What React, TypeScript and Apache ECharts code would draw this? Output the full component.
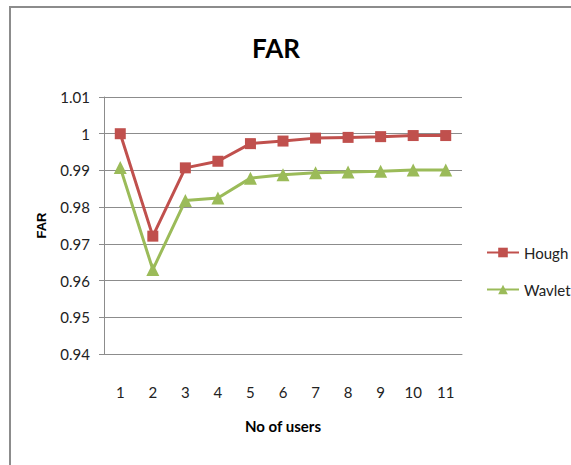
import React, { useEffect, useRef } from "react";
import * as echarts from "echarts";

const categories = ["1", "2", "3", "4", "5", "6", "7", "8", "9", "10", "11"];
const houghValues = [1.0, 0.9721, 0.9907, 0.9925, 0.9973, 0.998, 0.9988, 0.999, 0.9992, 0.9995, 0.9995];
const wavletValues = [0.9908, 0.963, 0.9818, 0.9825, 0.9879, 0.9888, 0.9894, 0.9896, 0.9898, 0.9901, 0.9901];
const yMin = 0.94;
const yMax = 1.01;
const yStep = 0.01;

const FONT = "Lato, 'Liberation Sans', sans-serif";

export default function App() {
  const ref = useRef<HTMLDivElement>(null);
  useEffect(() => {
    if (!ref.current) return;
    const chart = echarts.init(ref.current, null, { renderer: "svg" });
    chart.setOption({
      animation: false,
      backgroundColor: "#ffffff",
      title: {
        text: "FAR",
        left: 271,
        textAlign: "center",
        top: 30,
        textStyle: { fontFamily: FONT, fontSize: 26, fontWeight: "bold", color: "#000" },
      },
      graphic: [
        {
          type: "rect",
          shape: { x: 10, y: 7, width: 600, height: 500 },
          style: { fill: "none", stroke: "#8c8c8c", lineWidth: 2 },
          silent: true,
        },
      ],
      legend: {
        orient: "vertical",
        left: 486,
        top: 245,
        padding: 0,
        itemWidth: 32,
        itemHeight: 12,
        itemGap: 22,
        textStyle: { fontFamily: FONT, fontSize: 15, color: "#222" },
        data: ["Hough", "Wavlet"],
      },
      grid: { left: 104, right: 109, top: 97, bottom: 111 },
      xAxis: {
        type: "category",
        data: categories,
        boundaryGap: true,
        name: "No of users",
        nameLocation: "middle",
        nameGap: 64,
        nameTextStyle: { fontFamily: FONT, fontSize: 15, fontWeight: "bold", color: "#000" },
        axisLine: { lineStyle: { color: "#8c8c8c", width: 1 } },
        axisTick: { show: false },
        axisLabel: { fontFamily: FONT, fontSize: 15, color: "#222", margin: 30 },
      },
      yAxis: {
        type: "value",
        min: yMin,
        max: yMax,
        interval: yStep,
        name: "FAR",
        nameLocation: "middle",
        nameGap: 56,
        nameTextStyle: { fontFamily: "'Liberation Sans', sans-serif", fontSize: 13, fontWeight: "bold", color: "#000" },
        axisLine: { show: true, lineStyle: { color: "#8c8c8c", width: 1 } },
        axisTick: { show: true, length: 5, lineStyle: { color: "#8c8c8c" } },
        axisLabel: {
          fontFamily: FONT,
          fontSize: 15,
          color: "#222",
          margin: 14,
          formatter: (v: number) => String(parseFloat(v.toFixed(2))),
        },
        splitLine: { show: true, lineStyle: { color: "#8c8c8c", width: 1 } },
      },
      series: [
        {
          name: "Hough",
          type: "line",
          data: houghValues,
          symbol: "rect",
          symbolSize: 11,
          lineStyle: { color: "#C0504D", width: 3 },
          itemStyle: { color: "#C0504D" },
        },
        {
          name: "Wavlet",
          type: "line",
          data: wavletValues,
          symbol: "triangle",
          symbolSize: 13,
          lineStyle: { color: "#9BBB59", width: 3 },
          itemStyle: { color: "#9BBB59" },
        },
      ],
    });
    return () => chart.dispose();
  }, []);
  return (
    <div
      ref={ref}
      style={{ position: "fixed", left: 0, top: 0, width: 571, height: 465 }}
    />
  );
}
